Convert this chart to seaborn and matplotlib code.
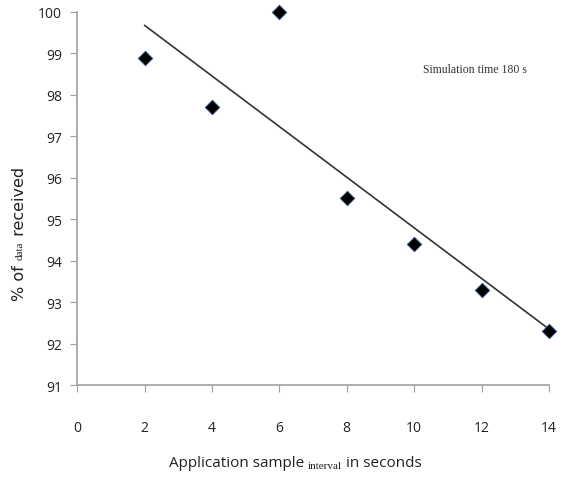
import numpy as np
import pandas as pd
import matplotlib
matplotlib.use('Agg')
import matplotlib.pyplot as plt
import seaborn as sns

# values
intervals = [2, 4, 6, 8, 10, 12, 14]
pct_received = [98.9, 97.7, 100.0, 95.5, 94.4, 93.3, 92.3]
x_ticks = [0, 2, 4, 6, 8, 10, 12, 14]
y_ticks = [91, 92, 93, 94, 95, 96, 97, 98, 99, 100]

sns.set_style("white")
plt.rcParams['font.family'] = ['Open Sans', 'DejaVu Sans']

df = pd.DataFrame({"interval": intervals, "pct": pct_received})

fig = plt.figure(figsize=(5.63, 4.81), dpi=100)
ax = fig.add_axes([0.137, 0.1975, 0.838, 0.7755])

sns.regplot(data=df, x="interval", y="pct", ax=ax, ci=None,
            marker="D", color="black",
            scatter_kws={"s": 55, "alpha": 1, "edgecolors": "#3a5a8a",
                         "linewidths": 0.6, "zorder": 3, "clip_on": False},
            line_kws={"color": "#333333", "linewidth": 1.2})

ax.set_xlim(0, 14)
ax.set_ylim(91, 100)
ax.set_xticks(x_ticks)
ax.set_yticks(y_ticks)
ax.set_xlabel("")
ax.set_ylabel("")

for side in ["top", "right"]:
    ax.spines[side].set_visible(False)
for side in ["left", "bottom"]:
    ax.spines[side].set_color("#a0a0a0")
    ax.spines[side].set_linewidth(1.2)

ax.tick_params(axis="x", direction="out", length=5, color="#a0a0a0", pad=20,
               labelsize=10, labelcolor="#222222")
ax.tick_params(axis="y", direction="out", length=5, color="#a0a0a0", pad=6,
               labelsize=10, labelcolor="#222222")
ax.tick_params(bottom=True, left=True)

ax.text(10.25, 98.62, "Simulation time 180 s", family="Liberation Serif",
        fontsize=8.5, color="#333333", ha="left", va="center")

# x label with small serif "interval"
t1 = fig.text(0.30, 0.03, "Application sample ", fontsize=11, color="#222222",
              va="baseline")
t2 = ax.annotate("interval", xy=(1, 0), xycoords=t1, va="bottom",
                 family="Liberation Serif", fontsize=8, color="#222222",
                 annotation_clip=False)
t3 = ax.annotate(" in seconds", xy=(1, 0), xycoords=t2, va="bottom",
                 fontsize=11, color="#222222", annotation_clip=False)

# y label with small serif "data"
y1 = fig.text(0.035, 0.375, "% of ", fontsize=11.5, color="#222222",
              family="DejaVu Sans", rotation=90, ha="center", va="bottom")
y2 = ax.annotate("data", xy=(0.5, 1), xycoords=y1, rotation=90,
                 ha="center", va="bottom", family="Liberation Serif",
                 fontsize=8, color="#222222", annotation_clip=False)
y3 = ax.annotate(" received", xy=(0.5, 1), xycoords=y2, rotation=90,
                 ha="center", va="bottom", fontsize=11.5, color="#222222",
                 family="DejaVu Sans", annotation_clip=False)

plt.savefig("out.png", dpi=100)
plt.close()
